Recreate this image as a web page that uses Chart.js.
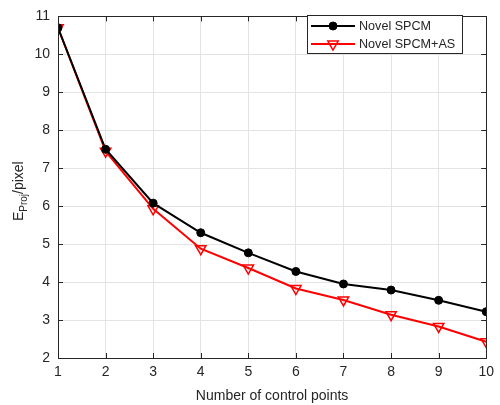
<!DOCTYPE html>
<html>
<head>
<meta charset="utf-8">
<script src="https://cdn.jsdelivr.net/npm/chart.js@4.4.0/dist/chart.umd.min.js"></script>
<style>
  html, body { margin: 0; padding: 0; background: #fff; }
  #wrap { width: 500px; height: 405px; }
</style>
</head>
<body>
<div id="wrap"><canvas id="chart" width="500" height="405"></canvas></div>
<script>
// Data
const controlPoints = [1, 2, 3, 4, 5, 6, 7, 8, 9, 10];
const spcm = [10.7, 7.5, 6.08, 5.3, 4.77, 4.28, 3.95, 3.79, 3.52, 3.22];
const spcmAS = [10.7, 7.45, 5.93, 4.88, 4.37, 3.83, 3.53, 3.14, 2.83, 2.43];
const seriesLabels = ['Novel SPCM', 'Novel SPCM+AS'];
const xTitle = 'Number of control points';

const FONT = 'Arial, "Liberation Sans", Helvetica, sans-serif';
const TEXT = '#262626';

// draws box, inward ticks, y title with subscript and the legend box
const matlabLook = {
    id: 'matlabLook',
    afterDraw(chart) {
        const ctx = chart.ctx;
        const a = chart.chartArea;
        const xs = chart.scales.x, ys = chart.scales.y;
        ctx.save();
        ctx.strokeStyle = TEXT;
        ctx.lineWidth = 1;
        ctx.beginPath();
        xs.ticks.forEach(t => {
            const px = Math.round(xs.getPixelForValue(t.value)) + 0.5;
            ctx.moveTo(px, a.bottom); ctx.lineTo(px, a.bottom - 5);
            ctx.moveTo(px, a.top); ctx.lineTo(px, a.top + 5);
        });
        ys.ticks.forEach(t => {
            const py = Math.round(ys.getPixelForValue(t.value)) + 0.5;
            ctx.moveTo(a.left, py); ctx.lineTo(a.left + 5, py);
            ctx.moveTo(a.right, py); ctx.lineTo(a.right - 5, py);
        });
        ctx.stroke();
        ctx.strokeRect(Math.round(a.left) + 0.5, Math.round(a.top) + 0.5,
            Math.round(a.right - a.left), Math.round(a.bottom - a.top));

        // y axis title: E_Proj/pixel
        ctx.translate(18, (a.top + a.bottom) / 2 + 4);
        ctx.rotate(-Math.PI / 2);
        ctx.fillStyle = TEXT;
        ctx.textBaseline = 'alphabetic';
        const big = '14px ' + FONT, small = '10px ' + FONT;
        ctx.font = big; const wE = ctx.measureText('E').width; const wPix = ctx.measureText('/pixel').width;
        ctx.font = small; const wSub = ctx.measureText('Proj').width;
        let x0 = -(wE + wSub + wPix) / 2;
        ctx.font = big; ctx.fillText('E', x0, 5);
        ctx.font = small; ctx.fillText('Proj', x0 + wE, 9);
        ctx.font = big; ctx.fillText('/pixel', x0 + wE + wSub, 5);
        ctx.restore();

        // legend box
        ctx.save();
        const lx = 307, ly = 15, lw = 155, lh = 38;
        ctx.fillStyle = '#fff';
        ctx.fillRect(lx, ly, lw, lh);
        ctx.strokeStyle = TEXT;
        ctx.lineWidth = 1;
        ctx.strokeRect(lx + 0.5, ly + 0.5, lw, lh);
        ctx.font = '12.6px ' + FONT;
        ctx.textBaseline = 'middle';
        chart.data.datasets.forEach((ds, i) => {
            const cy = ly + 11 + i * 18;
            ctx.strokeStyle = ds.borderColor;
            ctx.lineWidth = 2;
            ctx.beginPath(); ctx.moveTo(lx + 4, cy); ctx.lineTo(lx + 48, cy); ctx.stroke();
            ctx.fillStyle = ds.pointBackgroundColor;
            ctx.strokeStyle = ds.borderColor;
            ctx.lineWidth = ds.pointBorderWidth;
            Chart.helpers.drawPoint(ctx, {
                pointStyle: ds.pointStyle, rotation: ds.pointRotation || 0,
                radius: ds.pointRadius, borderWidth: ds.pointBorderWidth
            }, lx + 26, cy);
            ctx.fillStyle = TEXT;
            ctx.fillText(ds.label, lx + 52, cy + 1);
        });
        ctx.restore();
    }
};

new Chart(document.getElementById('chart'), {
    type: 'line',
    data: {
        labels: controlPoints,
        datasets: [{
            label: seriesLabels[0],
            data: controlPoints.map((x, i) => ({ x: x, y: spcm[i] })),
            borderColor: '#000000',
            backgroundColor: '#000000',
            pointBackgroundColor: '#000000',
            pointStyle: 'circle',
            pointRadius: 4,
            pointBorderWidth: 1,
            borderWidth: 2,
            tension: 0
        }, {
            label: seriesLabels[1],
            data: controlPoints.map((x, i) => ({ x: x, y: spcmAS[i] })),
            borderColor: '#ff0000',
            backgroundColor: '#ff0000',
            pointBackgroundColor: 'rgba(255,255,255,0)',
            pointStyle: 'triangle',
            pointRotation: 180,
            pointRadius: 6,
            pointBorderWidth: 1.5,
            borderWidth: 2,
            tension: 0
        }]
    },
    options: {
        responsive: false,
        animation: false,
        layout: { padding: { top: 10, right: 8, left: 0, bottom: 0 } },
        plugins: {
            legend: { display: false },
            tooltip: { enabled: false }
        },
        scales: {
            x: {
                type: 'linear',
                min: 1,
                max: 10,
                ticks: { stepSize: 1, color: TEXT, font: { family: FONT, size: 14 }, padding: 6, maxRotation: 0 },
                grid: { color: '#e3e3e3', tickLength: 0, drawTicks: false },
                border: { display: false },
                title: { display: true, text: xTitle, color: TEXT, font: { family: FONT, size: 14 }, padding: { top: 2, bottom: 0 } },
                afterFit(scale) { scale.height = 47; }
            },
            y: {
                min: 2,
                max: 11,
                ticks: { stepSize: 1, color: TEXT, font: { family: FONT, size: 14 }, padding: 8 },
                grid: { color: '#e3e3e3', tickLength: 0, drawTicks: false },
                border: { display: false },
                afterFit(scale) { scale.width = 58; }
            }
        }
    },
    plugins: [matlabLook]
});
</script>
</body>
</html>
